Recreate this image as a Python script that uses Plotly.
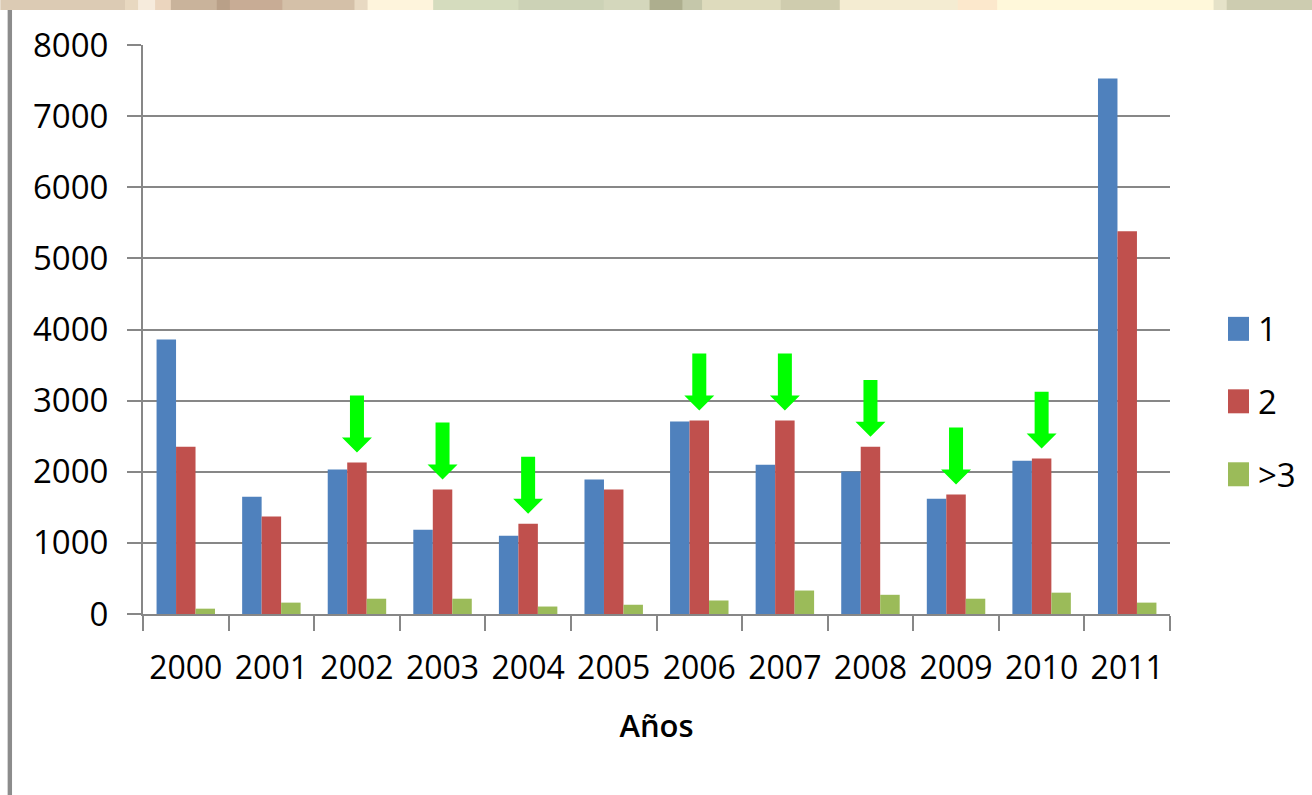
import plotly.graph_objects as go

years = ["2000", "2001", "2002", "2003", "2004", "2005", "2006", "2007", "2008", "2009", "2010", "2011"]
serie_1 = [3860, 1650, 2030, 1185, 1100, 1890, 2705, 2100, 2005, 1620, 2155, 7530]
serie_2 = [2350, 1370, 2130, 1750, 1270, 1750, 2720, 2720, 2350, 1680, 2185, 5380]
serie_3 = [75, 160, 215, 215, 105, 130, 190, 330, 270, 215, 300, 160]
series_names = ["1", "2", ">3"]
series_colors = ["#4F81BD", "#C0504D", "#9BBB59"]
arrow_years = ["2002", "2003", "2004", "2006", "2007", "2008", "2009", "2010"]

W, H = 1312, 795
L, R, T, B = 142.7, 1170.0, 45.0, 614.3
FONT = "Open Sans"
GRAY = "#878787"

def pxx(px):
    return (px - L) / (R - L)

def pxy(py):
    return (B - py) / (B - T)

xs = list(range(len(years)))
fig = go.Figure()
for name, vals, col in zip(series_names, [serie_1, serie_2, serie_3], series_colors):
    fig.add_trace(go.Bar(x=xs, y=vals, name=name, marker=dict(color=col, line=dict(width=0)),
                         showlegend=False))

shapes = []
# green arrows above red bars (derived from serie_2 values)
ppu_y = 8000 / (B - T)          # data units per pixel (y)
ppu_x = len(years) / (R - L)    # data units per pixel (x)
gap, length, head_h = 10 * ppu_y, 57 * ppu_y, 15 * ppu_y
shaft_hw, head_hw = 7 * ppu_x, 15 * ppu_x
for yr in arrow_years:
    i = years.index(yr)
    tip = serie_2[i] + gap
    top = tip + length
    neck = tip + head_h
    path = (f"M {i - shaft_hw},{top} L {i + shaft_hw},{top} L {i + shaft_hw},{neck} "
            f"L {i + head_hw},{neck} L {i},{tip} L {i - head_hw},{neck} L {i - shaft_hw},{neck} Z")
    shapes.append(dict(type="path", path=path, xref="x", yref="y", fillcolor="#00FF00",
                       line=dict(width=0), layer="above"))

# decorative top band
band = [(0, 0.095, "#DCCBB4"), (0.095, 0.105, "#E8D8C0"), (0.105, 0.118, "#F6EBDC"),
        (0.118, 0.13, "#EBD5BE"), (0.13, 0.165, "#C9B39B"), (0.165, 0.175, "#B9A088"),
        (0.175, 0.215, "#C8AC95"), (0.215, 0.27, "#D4C0A8"), (0.27, 0.28, "#E8D9C2"),
        (0.28, 0.33, "#FEF4DC"), (0.33, 0.395, "#D5DCBE"), (0.395, 0.46, "#CCD2B6"),
        (0.46, 0.495, "#D4D7BC"), (0.495, 0.52, "#ADAE8E"), (0.52, 0.535, "#C5C7AA"),
        (0.535, 0.595, "#DEDBBD"), (0.595, 0.64, "#CFCCAE"), (0.64, 0.73, "#F4ECD2"),
        (0.73, 0.76, "#FCE8CC"), (0.76, 0.925, "#FFF8DA"), (0.925, 0.935, "#E5E2C8"),
        (0.935, 1.0, "#CDCCB0")]
for a, b, c in band:
    shapes.append(dict(type="rect", xref="paper", yref="paper", x0=pxx(a * W), x1=pxx(b * W + 1),
                       y0=pxy(10), y1=pxy(-1), fillcolor=c, line=dict(width=0), layer="below"))
# left border line
shapes.append(dict(type="rect", xref="paper", yref="paper", x0=pxx(7.3), x1=pxx(11.7),
                   y0=pxy(796), y1=pxy(10), fillcolor="#8C8C8C", line=dict(width=0)))

# custom legend
annotations = []
leg_centers = [329, 401.5, 474.5]
for name, col, cy in zip(series_names, series_colors, leg_centers):
    shapes.append(dict(type="rect", xref="paper", yref="paper", x0=pxx(1228), x1=pxx(1249),
                       y0=pxy(cy + 12), y1=pxy(cy - 12), fillcolor=col, line=dict(width=0)))
    annotations.append(dict(text=name, xref="paper", yref="paper", x=pxx(1256), y=pxy(cy),
                            xanchor="left", yanchor="middle", showarrow=False,
                            font=dict(family=FONT, size=33, color="#000000")))

fig.update_layout(
    width=W, height=H,
    margin=dict(l=L, r=W - R, t=T, b=H - B, pad=0),
    paper_bgcolor="white", plot_bgcolor="white",
    barmode="group", bargap=0.317, bargroupgap=0,
    font=dict(family=FONT, size=33, color="#000000"),
    shapes=shapes, annotations=annotations,
    xaxis=dict(range=[-0.5, 11.5], tickmode="array", tickvals=xs, ticktext=years,
               ticks="", showgrid=False, zeroline=False,
               showline=True, linecolor=GRAY, linewidth=2,
               tickfont=dict(family=FONT, size=32), ticklabelstandoff=25,
               minor=dict(tickmode="linear", tick0=-0.5, dtick=1, ticks="outside",
                          ticklen=15, tickwidth=2, tickcolor=GRAY, showgrid=False),
               title=dict(text="Años", font=dict(family=FONT, size=31, weight=600), standoff=28)),
    yaxis=dict(range=[0, 8000], tickmode="linear", tick0=0, dtick=1000,
               showgrid=True, gridcolor=GRAY, gridwidth=2, zeroline=False,
               showline=True, linecolor=GRAY, linewidth=2,
               ticks="outside", ticklen=14, tickwidth=2, tickcolor=GRAY,
               tickfont=dict(family=FONT, size=33), ticklabelstandoff=12),
)

fig.write_html("out.html", config={"displayModeBar": False},
               post_script="document.body.style.margin='0px';")
